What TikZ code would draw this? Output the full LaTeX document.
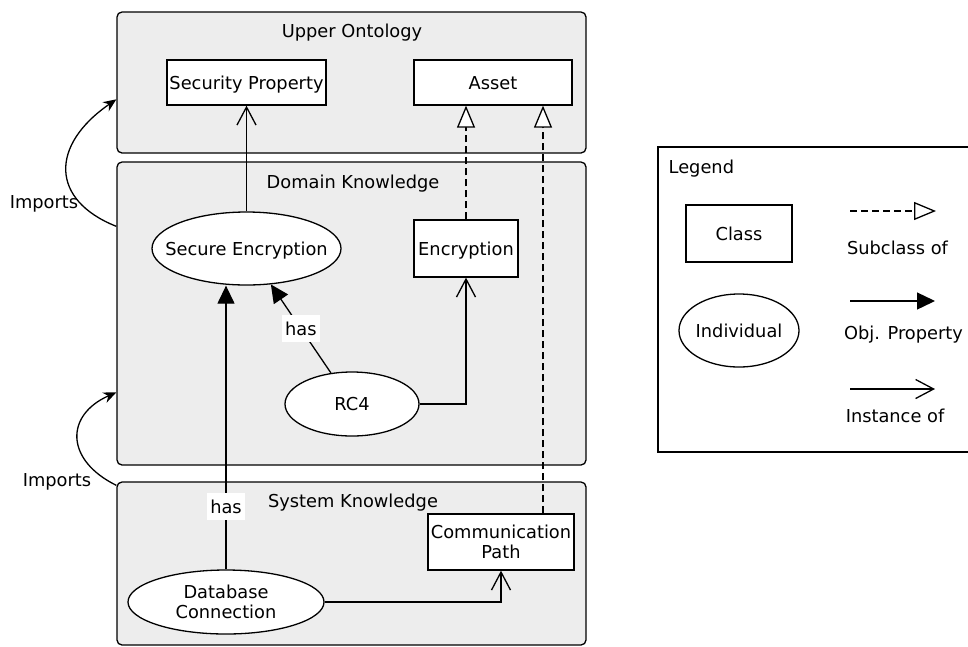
\documentclass[tikz,border=0pt]{standalone}
\usepackage{fontspec}
\setmainfont{DejaVu Sans}
\usetikzlibrary{shapes.geometric, arrows.meta}
\definecolor{panelgray}{RGB}{237,237,237}
% centre a text without letting its width enlarge the surrounding shape
\newcommand\zw[1]{\makebox[0pt]{#1}}

\begin{document}
\begin{tikzpicture}[x=1pt, y=-1pt, line width=1.3pt,
  every node/.style={font=\fontsize{17.8}{20.5}\selectfont},
  one/.style={text height=13pt, text depth=0pt},
  panel/.style={draw, fill=panelgray, rounded corners=5pt, inner sep=0pt},
  cls/.style={draw, fill=white, inner sep=0pt, align=center},
  ind/.style={ellipse, draw, fill=white, inner sep=0pt, align=center},
  edgelbl/.style={fill=white, one, inner xsep=3pt, inner ysep=7pt},
  inst/.style={-{Straight Barb[length=18pt,width=19pt]}},
  sub/.style={dash pattern=on 7pt off 4pt, -{Triangle[length=22pt,width=18pt,fill=white]}},
  obj/.style={-{Triangle[length=18pt,width=17pt]}},
  imp/.style={-{Stealth[length=13pt,width=11pt]}},
]
\useasboundingbox (0,0) rectangle (968,646);
\clip (0,0) rectangle (968,646);

% ontology layers
\node[panel, minimum width=469pt, minimum height=141pt] (uo) at (351.5,82.5) {};
\node[panel, minimum width=469pt, minimum height=303pt] (dk) at (351.5,313.5) {};
\node[panel, minimum width=469pt, minimum height=163pt] (sk) at (351.5,563.5) {};
\node[one] (uot) at (352,31) {Upper Ontology};
\node[one] (dkt) at (353,182) {Domain Knowledge};
\node[one] (skt) at (353,501) {System Knowledge};

% classes
\node[cls, one, minimum width=159pt, minimum height=45pt] (sp) at (246.5,82.5) {Security Property};
\node[cls, one, minimum width=158pt, minimum height=45pt] (asset) at (493,82.5) {Asset};
\node[cls, one, minimum width=104pt, minimum height=57pt] (enc) at (466,248.5) {Encryption};
\node[cls, minimum width=146pt, minimum height=56pt] (cp) at (501,542) {Communication\\Path};

% individuals
\node[ind, one, minimum width=189pt, minimum height=73pt] (se) at (246.5,248.5) {\zw{Secure Encryption}};
\node[ind, one, minimum width=134pt, minimum height=64pt] (rc4) at (352,404) {\zw{RC4}};
\node[ind, minimum width=196pt, minimum height=64pt] (db) at (226,602) {\zw{Database}\\\zw{Connection}};

% relations
\draw[inst] (se) -- (sp);
\draw[sub] (enc.north) -- (enc.north |- asset.south);
\draw[sub] ([xshift=42pt]cp.north) -- ([xshift=42pt]cp.north |- asset.south);
\draw[inst] (rc4.east) -| (enc.south);
\draw[obj] (rc4) -- node[edgelbl] (has1) {has} (se);
\draw[obj] (db.north) -- node[edgelbl, pos=0.22] (has2) {has} (db.north |- se.south);
\draw[inst] (db.east) -| (cp.south);

% imports between layers
\draw[imp] ([yshift=-65pt]dk.north west) .. controls (50,200) and (50,145) .. ([yshift=-88pt]uo.north west);
\draw[imp] ([yshift=-4pt]sk.north west) .. controls (65,460) and (65,415) .. ([yshift=-231pt]dk.north west);
\node[one] (imp1) at (44,202) {Imports};
\node[one] (imp2) at (57,480) {Imports};

% legend
\node[draw, fill=white, minimum width=327pt, minimum height=305pt, inner sep=0pt] (leg) at (821.5,299.5) {};
\node[one, anchor=west, inner sep=0pt] (legt) at (668,167) {Legend};
\node[cls, one, minimum width=106pt, minimum height=57pt] (lcls) at (739,233.5) {Class};
\node[ind, one, minimum width=120pt, minimum height=73pt] (lind) at (739,330.5) {\zw{Individual}};
\coordinate (s0) at (850,211);
\coordinate (s1) at (936,211);
\draw[sub] (s0) -- (s1);
\node[one] (lsub) at (897.5,248) {Subclass of};
\coordinate (o0) at (850,301);
\coordinate (o1) at (935,301);
\draw[obj] (o0) -- (o1);
\node[one] (lobj) at (903.5,333) {Obj. Property};
\coordinate (i0) at (850,389);
\coordinate (i1) at (935,389);
\draw[inst] (i0) -- (i1);
\node[one] (linst) at (895,416) {Instance of};
\end{tikzpicture}
\end{document}
